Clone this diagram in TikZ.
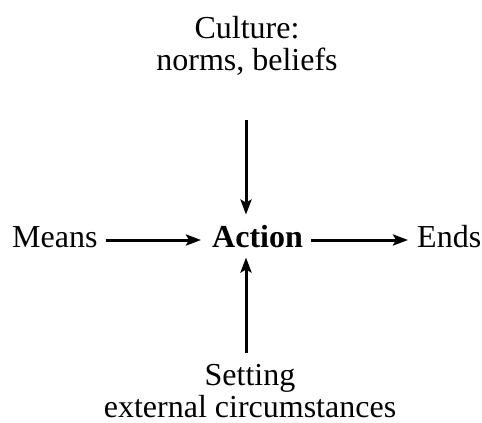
\documentclass[tikz,border=0pt]{standalone}
\usepackage{fontspec}
\setmainfont{Liberation Serif}
\usetikzlibrary{arrows.meta}
\begin{document}
\begin{tikzpicture}[x=1pt,y=-1pt,
  lbl/.style={inner sep=0pt,font=\fontsize{32}{32}\selectfont},
  arr/.style={line width=3pt,-{Stealth[length=15pt,width=11pt,inset=3pt]}}]
\useasboundingbox (0,0) rectangle (482,423);
\node[lbl,anchor=base] (culture1) at (247,38) {Culture:};
\node[lbl,anchor=base] (culture2) at (247,70) {norms, beliefs};
\node[lbl,anchor=base west] (means) at (12,247) {Means};
\node[lbl,anchor=base west,font=\fontsize{32}{32}\selectfont\bfseries] (action) at (212,247) {Action};
\node[lbl,anchor=base west] (ends) at (417,247) {Ends};
\node[lbl,anchor=base] (setting1) at (250,385) {Setting};
\node[lbl,anchor=base] (setting2) at (250,417) {external circumstances};
\coordinate (topend) at (246,120);
\coordinate (botend) at (246,353);
\draw[arr] ([shift={(8pt,7pt)}]means.base east) -- ([shift={(-11pt,7pt)}]action.base west);
\draw[arr] ([shift={(8pt,7pt)}]action.base east) -- ([shift={(-9pt,7pt)}]ends.base west);
\draw[arr,shorten >=10pt] (topend) -- (topend |- action.north);
\draw[arr,shorten >=10pt] (botend) -- (botend |- action.south);
\end{tikzpicture}
\end{document}
